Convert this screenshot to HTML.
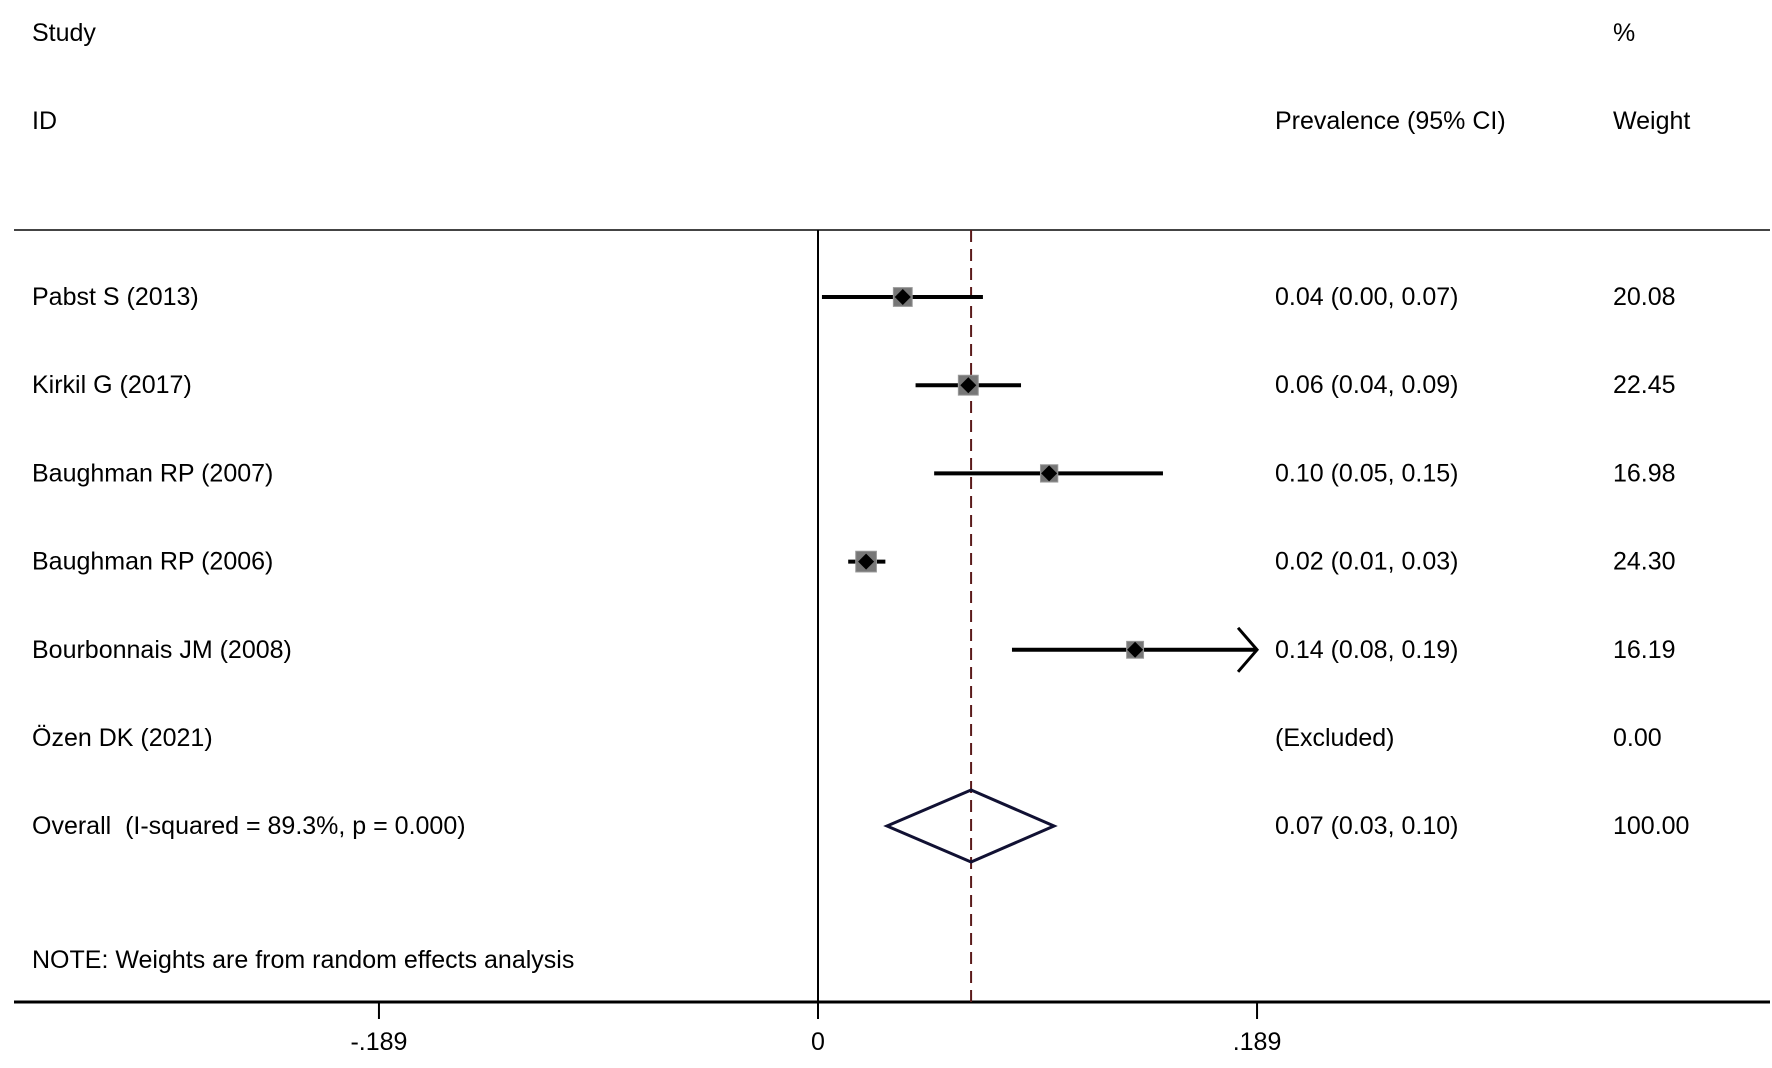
<!DOCTYPE html>
<html><head><meta charset="utf-8"><style>
html,body{margin:0;padding:0;background:#fff;}
svg text{font-family:"Liberation Sans",Arial,sans-serif;font-size:25px;fill:#000;white-space:pre;}
</style></head><body>
<svg id="plot" width="1772" height="1063" viewBox="0 0 1772 1063" xmlns="http://www.w3.org/2000/svg">
<text x="32" y="33" dominant-baseline="central">Study</text>
<text x="32" y="121" dominant-baseline="central">ID</text>
<text x="1275" y="121" dominant-baseline="central">Prevalence (95% CI)</text>
<text x="1613" y="33" dominant-baseline="central">%</text>
<text x="1613" y="121" dominant-baseline="central">Weight</text>
<line x1="14" y1="230" x2="1770" y2="230" stroke="#444" stroke-width="2"/>
<line x1="14" y1="1002" x2="1770" y2="1002" stroke="#000" stroke-width="3"/>
<g id="marks"></g>
</svg>
<script>
const studies = ["Pabst S (2013)","Kirkil G (2017)","Baughman RP (2007)","Baughman RP (2006)","Bourbonnais JM (2008)","Özen DK (2021)"];
const est = [0.0365,0.0647,0.0995,0.0207,0.1365,null];
const lo = [0.0017,0.042,0.050,0.013,0.0835,null];
const hi = [0.071,0.0874,0.1485,0.029,0.19,null];
const labels = ["0.04 (0.00, 0.07)","0.06 (0.04, 0.09)","0.10 (0.05, 0.15)","0.02 (0.01, 0.03)","0.14 (0.08, 0.19)","(Excluded)"];
const weights = ["20.08","22.45","16.98","24.30","16.19","0.00"];
const wnum = [20.08,22.45,16.98,24.30,16.19,0];
const overallEst = 0.0659, overallLo = 0.0297, overallHi = 0.1016;
const overallLabel = "0.07 (0.03, 0.10)", overallWeight = "100.00";
const ticks = [-0.189,0,0.189];
const tickLabels = ["-.189","0",".189"];

const X0=818, PX=2323, XMAX=0.189;
const xs = v => X0 + v*PX;
const rowY = i => 297 + i*88.2;
const NS="http://www.w3.org/2000/svg";
const g=document.getElementById('marks');
function mk(tag, at){const e=document.createElementNS(NS,tag);for(const k in at)e.setAttribute(k,at[k]);g.appendChild(e);return e;}

let e;
e=mk('line',{x1:X0,y1:230,x2:X0,y2:1019,stroke:'#000','stroke-width':2});


e=mk('line',{x1:xs(overallEst),y1:230,x2:xs(overallEst),y2:1002,stroke:'#5a1a1a','stroke-width':2,'stroke-dasharray':'12,7'});



studies.forEach((s,i)=>{
  const y=rowY(i);
  let t=mk('text',{x:32,y:y,'dominant-baseline':'central'});t.textContent=s;
  
  
  t=mk('text',{x:1275,y:y,'dominant-baseline':'central'});t.textContent=labels[i];
  
  
  t=mk('text',{x:1613,y:y,'dominant-baseline':'central'});t.textContent=weights[i];
  
  
  if(est[i]===null) return;
  const clipped = hi[i] > XMAX;
  const x2 = xs(Math.min(hi[i],XMAX));
  let l=mk('line',{x1:xs(lo[i]),y1:y,x2:x2,y2:y,stroke:'#000','stroke-width':4});
  
  
  if(clipped){
    let a=mk('polyline',{points:`${x2-19},${y-22} ${x2},${y} ${x2-19},${y+22}`,fill:'none',stroke:'#000','stroke-width':3});
    
    
  }
  const sz=4.2*Math.sqrt(wnum[i]);
  let b=mk('rect',{x:xs(est[i])-sz/2,y:y-sz/2,width:sz,height:sz,fill:'#777',stroke:'#999','stroke-width':1});
  
  
  const d=8;
  let p=mk('polygon',{points:`${xs(est[i])-d},${y} ${xs(est[i])},${y-d} ${xs(est[i])+d},${y} ${xs(est[i])},${y+d}`,fill:'#000'});
  
  
});

const oy=826;
let t=mk('text',{x:32,y:oy,'dominant-baseline':'central'});t.textContent="Overall  (I-squared = 89.3%, p = 0.000)";


t=mk('text',{x:1275,y:oy,'dominant-baseline':'central'});t.textContent=overallLabel;


t=mk('text',{x:1613,y:oy,'dominant-baseline':'central'});t.textContent=overallWeight;


let dm=mk('polygon',{points:`${xs(overallLo)},${oy} ${xs(overallEst)},${oy-36} ${xs(overallHi)},${oy} ${xs(overallEst)},${oy+36}`,fill:'none',stroke:'#111133','stroke-width':3});


t=mk('text',{x:32,y:960,'dominant-baseline':'central'});t.textContent="NOTE: Weights are from random effects analysis";



ticks.forEach((v,i)=>{
  let l=mk('line',{x1:xs(v),y1:1002,x2:xs(v),y2:1019,stroke:'#000','stroke-width':2});
  
  
  let tt=mk('text',{x:xs(v),y:1042,'text-anchor':'middle','dominant-baseline':'central'});tt.textContent=tickLabels[i];
  
  
});
</script>
</body></html>
